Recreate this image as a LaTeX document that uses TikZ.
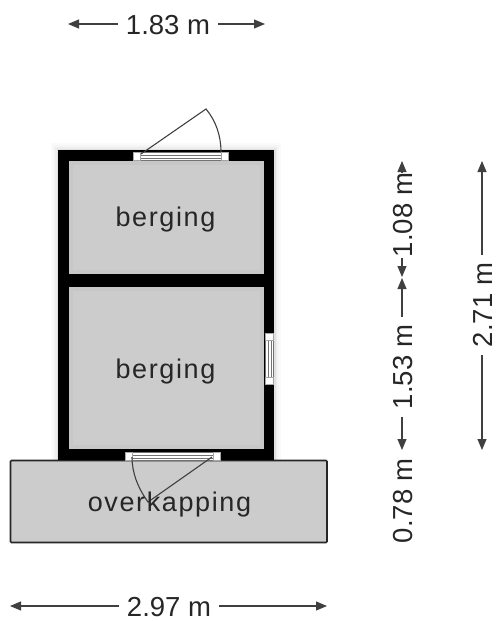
\documentclass[tikz,border=0pt]{standalone}
\usepackage{fontspec}
\usetikzlibrary{arrows.meta}
\setmainfont{Liberation Sans}
\newfontfamily\roomfont[LetterSpace=6]{Liberation Sans}

\begin{document}
\begin{tikzpicture}[x=1pt, y=-1pt]
	\tikzset{dimlabel/.style={inner xsep=#1, inner ysep=0pt, text height=20pt, text depth=0pt, text=black!85, font=\fontsize{27.5}{30}\selectfont}}
	\tikzset{dimlabel/.default=8pt}
	\tikzset{dimline/.style={draw=black!75, line width=1.1pt, -{Stealth[length=11pt, width=9pt, inset=0pt]}}}
	\tikzset{roomlabel/.style={inner sep=0pt, text=black!85, font=\roomfont\fontsize{27}{30}\selectfont}}
	\tikzset{doorline/.style={draw=black!55, line width=0.8pt}}
	\tikzset{post/.style={fill=white, draw=black!35, line width=0.4pt}}
	\useasboundingbox (0,0) rectangle (498,621);
	
	% Soft shadow round the walls
	\foreach \w/\g in {14/2,10/4,6/7,3/12}{
		\draw[black!\g, line width=\w pt] (58,150) rectangle (274,460);
	}
	
	% Roof
	\draw[fill=black!20, draw=black!85, line width=1.6pt, rounded corners=1pt] (10.5,460.5) rectangle (327,542.5);
	
	% Walls and rooms
	\fill[black] (58,150) rectangle (274,460);
	\fill[black!22] (69,161) rectangle (264,274);
	\fill[black!22] (69,287) rectangle (264,449);
	\fill[black!20] (73,165) rectangle (260,270);
	\fill[black!20] (73,291) rectangle (260,445);
	
	% Door top
	\fill[white] (140,152) rectangle (221,160);
	\foreach \y in {152,155,158,160.5}{
		\draw[doorline] (140,\y) -- (221,\y);
	}
	\foreach \x in {133,221}{
		\draw[post] (\x,152) rectangle ++(7,8);
	}
	
	% Door bottom
	\fill[white] (132,452) rectangle (213,460);
	\foreach \y in {452,455,458,460}{
		\draw[doorline] (132,\y) -- (213,\y);
	}
	\foreach \x in {125,213}{
		\draw[post] (\x,452) rectangle ++(7,8);
	}
	
	% Window right
	\fill[white] (265,340) rectangle (273,377);
	\foreach \x in {265,268,271,273.5}{
		\draw[doorline] (\x,340) -- (\x,377);
	}
	\foreach \y in {333,377}{
		\draw[post] (265.5,\y) rectangle ++(8,7);
	}
	
	% Door leaves
	\coordinate (hingetop) at (141,154);
	\coordinate (leaftop) at (206,109);
	\coordinate (jambtop) at (221,152);
	\coordinate (hingebot) at (212,457);
	\coordinate (leafbot) at (148,502);
	\coordinate (jambbot) at (132,457);
	\draw[black!75, line width=1.1pt] (hingetop) -- (leaftop) .. controls (216,121) and (221,136) .. (jambtop);
	\draw[black!75, line width=1.1pt] (hingebot) -- (leafbot) .. controls (138,488) and (132,473) .. (jambbot);
	
	% Room labels
	\node[roomlabel] (room1) at (165.5,220) {berging};
	\node[roomlabel] (room2) at (165.5,372) {berging};
	\node[roomlabel] (room3) at (169.5,505) {overkapping};
	
	% Horizontal sizes
	\node[dimlabel] (dimtop) at (168,24) {1.83 m};
	\coordinate (dimtopa) at (68,23);
	\coordinate (dimtopb) at (265,23);
	\draw[dimline] (dimtop.west) -- (dimtop.west -| dimtopa);
	\draw[dimline] (dimtop.east) -- (dimtop.east -| dimtopb);
	
	\node[dimlabel] (dimbot) at (169,606) {2.97 m};
	\coordinate (dimbota) at (10,606);
	\coordinate (dimbotb) at (327,606);
	\draw[dimline] (dimbot.west) -- (dimbot.west -| dimbota);
	\draw[dimline] (dimbot.east) -- (dimbot.east -| dimbotb);
	
	% Vertical sizes
	\node[dimlabel=1pt, rotate=90] (dima) at (402,215) {1.08 m};
	\coordinate (dimaa) at (402,161);
	\coordinate (dimab) at (402,277);
	\draw[dimline] (dima.east) -- (dima.east |- dimaa);
	\draw[dimline] (dima.west) -- (dima.west |- dimab);
	
	\node[dimlabel, rotate=90] (dimb) at (402,367) {1.53 m};
	\coordinate (dimba) at (402,278);
	\coordinate (dimbb) at (402,450);
	\draw[dimline] (dimb.east) -- (dimb.east |- dimba);
	\draw[dimline] (dimb.west) -- (dimb.west |- dimbb);
	
	\node[dimlabel, rotate=90] (dimc) at (402,501) {0.78 m};
	
	\node[dimlabel, rotate=90] (dimd) at (482,305) {2.71 m};
	\coordinate (dimda) at (482,161);
	\coordinate (dimdb) at (482,450);
	\draw[dimline] (dimd.east) -- (dimd.east |- dimda);
	\draw[dimline] (dimd.west) -- (dimd.west |- dimdb);
\end{tikzpicture}
\end{document}
